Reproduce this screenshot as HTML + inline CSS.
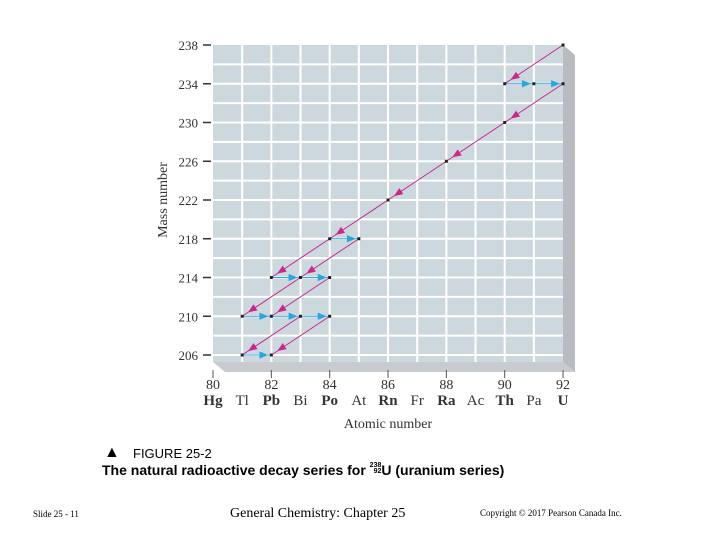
<!DOCTYPE html>
<html><head><meta charset="utf-8"><style>
body{margin:0;width:720px;height:540px;background:#fff;overflow:hidden;position:relative;font-family:"Liberation Serif",serif}
.t{position:absolute;white-space:nowrap}
</style></head><body>
<svg id="chart" width="720" height="540" style="position:absolute;left:0;top:0"></svg>
<div class="t" style="left:104px;top:444px;font:16px 'Liberation Sans',sans-serif">▲</div>
<div class="t" style="left:133px;top:446px;font:13px 'Liberation Sans',sans-serif">FIGURE 25-2</div>
<div class="t" style="left:102px;top:462px;font:bold 14px 'Liberation Sans',sans-serif">The natural radioactive decay series for <span style="display:inline-block;font-size:7px;line-height:6px;vertical-align:2px;text-align:right">238<br>92</span>U (uranium series)</div>
<div class="t" style="left:33px;top:509px;font:9px 'Liberation Serif',serif">Slide 25 - 11</div>
<div class="t" style="left:230px;top:506px;font:14px 'Liberation Serif',serif">General Chemistry: Chapter 25</div>
<div class="t" style="left:480px;top:508px;font:9px 'Liberation Serif',serif">Copyright © 2017 Pearson Canada Inc.</div>
<script>
const xTicks=[80,82,84,86,88,90,92];
const elements=["Hg","Tl","Pb","Bi","Po","At","Rn","Fr","Ra","Ac","Th","Pa","U"];
const yTicks=[206,210,214,218,222,226,230,234,238];
const alphaFrom=[[92,238],[92,234],[90,230],[88,226],[86,222],[84,218],[85,218],[83,214],[84,214],[83,210],[84,210]];
const alphaTo=[[90,234],[90,230],[88,226],[86,222],[84,218],[82,214],[83,214],[81,210],[82,210],[81,206],[82,206]];
const betaFrom=[[90,234],[91,234],[84,218],[82,214],[83,214],[81,210],[82,210],[83,210],[81,206]];
const betaTo=[[91,234],[92,234],[85,218],[83,214],[84,214],[82,210],[83,210],[84,210],[82,206]];
const X=z=>213+(z-80)*29.17, Y=m=>45+(238-m)*9.6875;
const svg=document.getElementById('chart'),NS='http://www.w3.org/2000/svg';
function mk(t,a,p){const e=document.createElementNS(NS,t);for(const k in a)e.setAttribute(k,a[k]);(p||svg).appendChild(e);return e;}
let e;
e=mk('polygon',{points:`563,45 575,55 575,372 563,362`,fill:'#b8bcc0'});

e=mk('polygon',{points:`213,362 563,362 575,372 225,372`,fill:'#c8cccf'});

e=mk('rect',{x:213,y:45,width:350,height:317,fill:'#cdd8de'});

for(let z=81;z<92;z++){e=mk('line',{x1:X(z),x2:X(z),y1:45,y2:362,stroke:'#fff','stroke-width':2});}
for(let m=206;m<238;m+=2){e=mk('line',{x1:213,x2:563,y1:Y(m),y2:Y(m),stroke:'#fff','stroke-width':2});}
yTicks.forEach(m=>{
 e=mk('line',{x1:203,x2:211,y1:Y(m),y2:Y(m),stroke:'#333','stroke-width':1.5});
 e=mk('text',{x:198,y:Y(m)+5,'text-anchor':'end','font-size':13,fill:'#333','font-family':'Liberation Serif'});e.textContent=m;
});
xTicks.forEach(z=>{
 e=mk('line',{x1:X(z),x2:X(z),y1:370,y2:378,stroke:'#555','stroke-width':1});
 e=mk('text',{x:X(z),y:389,'text-anchor':'middle','font-size':14,fill:'#333','font-family':'Liberation Serif'});e.textContent=z;
});
elements.forEach((s,i)=>{
 e=mk('text',{x:X(80+i),y:405,'text-anchor':'middle','font-size':15,fill:'#333','font-family':'Liberation Serif','font-weight':(i%2==0?'bold':'normal')});e.textContent=s;
});
e=mk('text',{x:388,y:428,'text-anchor':'middle','font-size':14,fill:'#333','font-family':'Liberation Serif'});e.textContent='Atomic number';
e=mk('text',{x:0,y:0,'text-anchor':'middle','font-size':14,fill:'#333','font-family':'Liberation Serif',transform:'translate(167,200) rotate(-90)'});e.textContent='Mass number';
function head(x1,y1,x2,y2,f,col,len){const dx=x2-x1,dy=y2-y1,L=Math.hypot(dx,dy),ux=dx/L,uy=dy/L;const tx=x1+dx*f,ty=y1+dy*f,bx=tx-ux*len,by=ty-uy*len,w=len*0.4;
 return mk('polygon',{points:`${tx},${ty} ${bx-uy*w},${by+ux*w} ${bx+uy*w},${by-ux*w}`,fill:col});}
alphaFrom.forEach((a,i)=>{const b=alphaTo[i];
 e=mk('line',{x1:X(a[0]),y1:Y(a[1]),x2:X(b[0]),y2:Y(b[1]),stroke:'#c8288c','stroke-width':1});
 e=head(X(a[0]),Y(a[1]),X(b[0]),Y(b[1]),0.9,'#c8288c',9);
});
betaFrom.forEach((a,i)=>{const b=betaTo[i];
 e=mk('line',{x1:X(a[0]),y1:Y(a[1]),x2:X(b[0]),y2:Y(b[1]),stroke:'#2aa6dc','stroke-width':1});
 e=head(X(a[0]),Y(a[1]),X(b[0]),Y(b[1]),0.9,'#2aa6dc',9);
});
const pts=new Set();alphaFrom.concat(alphaTo,betaFrom,betaTo).forEach(p=>pts.add(p.join(',')));
pts.forEach(s=>{const [z,m]=s.split(',').map(Number);e=mk('rect',{x:X(z)-1.5,y:Y(m)-1.5,width:3,height:3,fill:'#222'});});
</script>
</body></html>
